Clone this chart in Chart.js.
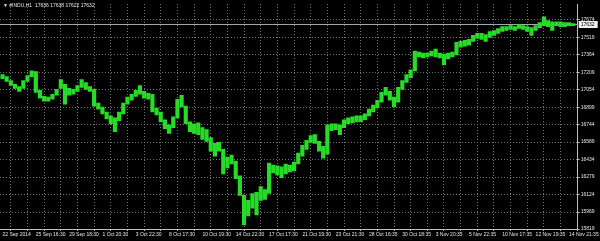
<!DOCTYPE html>
<html>
<head>
<meta charset="utf-8">
<script src="https://cdn.jsdelivr.net/npm/chart.js@4.4.0/dist/chart.umd.min.js"></script>
<style>
  html, body { margin: 0; padding: 0; background: #000; }
  canvas { display: block; }
</style>
</head>
<body>
<canvas id="chart" width="600" height="241"></canvas>
<script>
// #INDU H1, shown as 2-hour high/low ranges
const symbol = "#INDU,H1";
const lastBar = [17636, 17638, 17622, 17632]; // open high low close
const bidPrice = 17632;

const timeLabels = [
  "22 Sep 2014", "25 Sep 16:30", "29 Sep 18:30", "1 Oct 20:30", "3 Oct 22:30",
  "8 Oct 17:30", "10 Oct 19:30", "14 Oct 22:30", "17 Oct 17:30", "21 Oct 19:30",
  "23 Oct 21:30", "28 Oct 16:35", "30 Oct 18:35", "3 Nov 20:35", "5 Nov 22:35",
  "10 Nov 17:35", "12 Nov 19:35", "14 Nov 21:35"
];

const priceTicks = [17674, 17519, 17364, 17209, 17054, 16899, 16744, 16589,
  16434, 16279, 16124, 15969, 15819];

const barLows = [
  17152, 17126, 17091, 17065, 17039, 17065, 17126, 17169, 17030, 16978,
  16952, 16952, 16969, 17004, 17065, 16926, 17004, 17013, 17039, 17074,
  17056, 17039, 16908, 16882, 16839, 16795, 16752, 16682, 16778, 16839,
  16926, 16960, 16995, 17013, 16978, 16969, 16856, 16830, 16769, 16708,
  16665, 16717, 16804, 16900, 16752, 16682, 16665, 16656, 16612, 16595,
  16508, 16465, 16508, 16308, 16360, 16395, 16264, 16117, 15856, 15934,
  16003, 15943, 16073, 16082, 16134, 16317, 16299, 16273, 16308, 16325,
  16334, 16395, 16465, 16525, 16586, 16578, 16508, 16447, 16482, 16691,
  16699, 16656, 16717, 16752, 16760, 16769, 16769, 16787, 16821, 16856,
  16891, 16943, 17004, 16960, 16900, 16943, 17056, 17117, 17161, 17221,
  17343, 17335, 17343, 17352, 17343, 17335, 17274, 17326, 17343, 17361,
  17430, 17439, 17448, 17482, 17509, 17500, 17482, 17517, 17535, 17552,
  17569, 17578, 17587, 17578, 17596, 17587, 17569, 17535, 17578, 17604,
  17622, 17613, 17578, 17622, 17613, 17613, 17622, 17622
];

const barHighs = [
  17187, 17169, 17134, 17100, 17082, 17134, 17178, 17221, 17213, 17047,
  16995, 16987, 17013, 17056, 17143, 17100, 17065, 17056, 17091, 17143,
  17117, 17082, 17056, 16934, 16900, 16856, 16821, 16804, 16856, 16934,
  16987, 17013, 17047, 17091, 17039, 17021, 17013, 16891, 16856, 16787,
  16743, 16813, 16969, 17004, 16908, 16769, 16752, 16760, 16717, 16699,
  16630, 16578, 16586, 16525, 16456, 16473, 16421, 16291, 16117, 16073,
  16134, 16143, 16195, 16169, 16404, 16386, 16378, 16369, 16395, 16386,
  16412, 16491, 16560, 16604, 16647, 16656, 16595, 16552, 16743, 16752,
  16752, 16743, 16787, 16804, 16813, 16821, 16821, 16839, 16882, 16917,
  16960, 17030, 17074, 17039, 16987, 17074, 17134, 17187, 17230, 17395,
  17387, 17378, 17378, 17395, 17413, 17378, 17369, 17378, 17387, 17474,
  17482, 17491, 17500, 17535, 17552, 17552, 17543, 17569, 17578, 17596,
  17613, 17613, 17622, 17613, 17630, 17622, 17613, 17604, 17622, 17648,
  17700, 17665, 17656, 17656, 17656, 17648, 17648, 17638
];

const labelFont = { family: "'Liberation Sans', Arial, sans-serif", size: 5 };
const gridColor = '#767676';
const axisColor = '#bdbdbd';
const textColor = '#e6e6e6';

const bars = barLows.map((lo, i) => ({ x: i, y: [lo, barHighs[i]] }));

const overlay = {
  id: 'overlay',
  beforeDatasetsDraw(chart) {
    const { ctx, chartArea, scales } = chart;
    const y = Math.round(scales.y.getPixelForValue(bidPrice)) + 0.5;
    ctx.save();
    ctx.strokeStyle = '#a3a9b0';
    ctx.lineWidth = 1;
    ctx.beginPath();
    ctx.moveTo(chartArea.left, y);
    ctx.lineTo(chartArea.right, y);
    ctx.stroke();
    ctx.restore();
  },
  afterDraw(chart) {
    const { ctx, chartArea, scales } = chart;
    const y = scales.y.getPixelForValue(bidPrice);
    ctx.save();
    ctx.font = "5px 'Liberation Sans', Arial, sans-serif";
    // bid price box on the right scale
    ctx.fillStyle = '#f0f0f0';
    ctx.fillRect(chartArea.right + 1, Math.round(y) - 3, 19, 7);
    ctx.fillStyle = '#000';
    ctx.textBaseline = 'middle';
    ctx.textAlign = 'left';
    ctx.fillText(String(bidPrice), chartArea.right + 3, y + 0.5);
    // symbol header
    ctx.fillStyle = textColor;
    ctx.fillText('\u25BC ' + symbol + '  ' + lastBar.join(' '), 3, 6);
    ctx.restore();
  }
};

new Chart(document.getElementById('chart'), {
  type: 'bar',
  data: {
    datasets: [{
      data: bars,
      backgroundColor: '#26dc26',
      borderWidth: 0,
      barThickness: 3.5,
      minBarLength: 2
    }]
  },
  options: {
    responsive: false,
    animation: false,
    layout: { padding: 0 },
    plugins: { legend: { display: false }, tooltip: { enabled: false } },
    scales: {
      x: {
        type: 'linear',
        min: -0.6,
        max: 138.1,
        offset: false,
        afterBuildTicks(scale) {
          const t = [];
          for (let v = 0; v <= 136; v += 4) t.push({ value: v });
          scale.ticks = t;
        },
        afterFit(scale) { scale.height = 12; },
        grid: { color: gridColor, lineWidth: 1, tickLength: 2, tickColor: axisColor },
        border: { display: true, color: axisColor, width: 1, dash: [1, 2] },
        ticks: {
          autoSkip: false,
          maxRotation: 0,
          align: 'start',
          padding: 1,
          color: textColor,
          font: labelFont,
          callback(v) { return v % 8 === 0 ? timeLabels[v / 8] : ''; }
        }
      },
      y: {
        position: 'right',
        min: 15819,
        max: 17813,
        afterBuildTicks(scale) {
          scale.ticks = priceTicks.map(v => ({ value: v }));
        },
        afterFit(scale) { scale.width = 21; },
        grid: { color: gridColor, lineWidth: 1, tickLength: 2, tickColor: axisColor },
        border: { display: true, color: axisColor, width: 1, dash: [1, 2] },
        ticks: {
          padding: 1,
          color: textColor,
          font: labelFont,
          callback(v) { return String(v); }
        }
      }
    }
  },
  plugins: [overlay]
});
</script>
</body>
</html>
